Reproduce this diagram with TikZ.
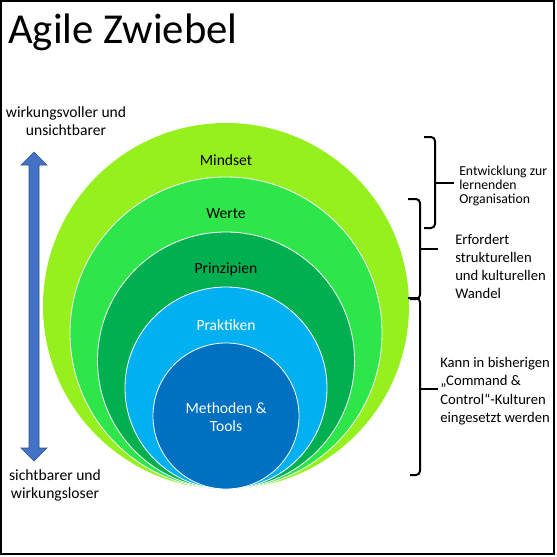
\documentclass[tikz,border=0pt]{standalone}
\usepackage{fontspec}
\setmainfont{Carlito}
\definecolor{mindsetgreen}{RGB}{150,240,30}
\definecolor{wertegreen}{RGB}{46,230,74}
\definecolor{prinzgreen}{RGB}{0,176,80}
\definecolor{praktblue}{RGB}{0,176,240}
\definecolor{methblue}{RGB}{0,112,192}
\definecolor{arrowblue}{RGB}{68,114,196}
\definecolor{arrowedge}{RGB}{47,82,143}
\tikzset{
  layer/.style={draw=white, line width=0.6pt},
  layertext/.style={font=\fontsize{11.7}{13}\selectfont, inner sep=0pt, align=center},
  sidetext/.style={font=\fontsize{11.7}{13.5}\selectfont, align=center, inner sep=0pt},
  notetext/.style={font=\fontsize{11}{13.8}\selectfont, align=left, anchor=west, inner sep=0pt},
  bracket/.style={line width=1.5pt, rounded corners=3pt},
}
\begin{document}
\begin{tikzpicture}[x=0.75pt, y=-0.75pt]
    \useasboundingbox (0,0) rectangle (557,557);
    \draw[line width=1pt] (1,1) rectangle (554,554);
    \node[anchor=base west, inner sep=0pt, font=\fontsize{32}{38}\selectfont] (title) at (8,43) {Agile Zwiebel};
    % onion layers, all touching at the bottom
    \fill[mindsetgreen] (226,306) circle (183);
    \filldraw[layer, fill=wertegreen] (226,333) circle (156);
    \filldraw[layer, fill=prinzgreen] (226,360.5) circle (128.5);
    \filldraw[layer, fill=praktblue] (226,388) circle (101);
    \filldraw[layer, fill=methblue] (226,416) circle (73);
    \node[layertext] (mindset) at (226,160) {Mindset};
    \node[layertext] (werte) at (226,214) {Werte};
    \node[layertext] (prinzipien) at (226,269) {Prinzipien};
    \node[layertext, text=white] (praktiken) at (226,325) {Praktiken};
    \node[layertext, text=white] (methoden) at (226,417) {Methoden \&\\Tools};
    % scale arrow on the left
    \filldraw[fill=arrowblue, draw=arrowedge, line width=0.5pt]
        (34,152) -- (47,165) -- (39,165) -- (39,448) -- (47,448) -- (34,461)
        -- (21,448) -- (29,448) -- (29,165) -- (21,165) -- cycle;
    \node[sidetext] (oben) at (66,121) {wirkungsvoller und\\unsichtbarer};
    \node[sidetext] (unten) at (55,485) {sichtbarer und\\wirkungsloser};
    % braces on the right
    \draw[bracket] (424,137) -| (435,183) |- (424,228);
    \draw[bracket] (435,183) -- (454,183);
    \draw[bracket] (408,199) -| (420,249) |- (410,299);
    \draw[bracket] (420,249) -- (438,249);
    \draw[bracket] (408,298) -| (420,389) |- (410,475);
    \draw[bracket] (420,389) -- (438,389);
    \node[notetext, font=\fontsize{10.3}{10.5}\selectfont] (lernend) at (459,186) {Entwicklung zur\\lernenden\\Organisation};
    \node[notetext, font=\fontsize{11}{13.5}\selectfont] (wandel) at (455,266) {Erfordert\\strukturellen\\und kulturellen\\Wandel};
    \node[notetext] (kulturen) at (440,391) {Kann in bisherigen\\„Command \&\\Control“-Kulturen\\eingesetzt werden};
\end{tikzpicture}
\end{document}
